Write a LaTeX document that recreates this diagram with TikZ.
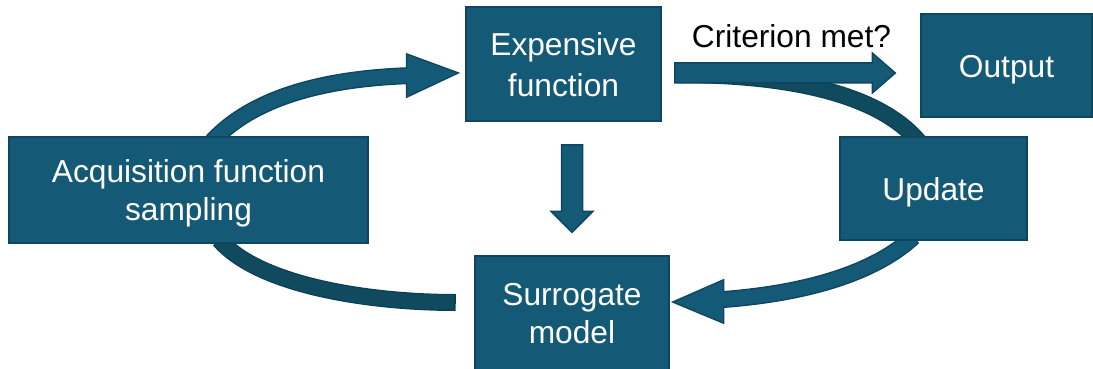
\documentclass[tikz,border=0pt]{standalone}
\usepackage{fontspec}
\setmainfont{Liberation Sans}
\usetikzlibrary{calc}
\pgfdeclarelayer{bg}
\pgfsetlayers{bg,main}
\definecolor{boxfill}{HTML}{145A76}
\definecolor{boxline}{HTML}{0E4660}
\definecolor{backfill}{HTML}{0F4A5F}
\definecolor{backline}{HTML}{0C3F52}
% struts giving every text block the same line box
\newcommand{\upperstrut}{\rule{0pt}{0.95em}}
\newcommand{\lowerstrut}{\rule[-0.2em]{0pt}{0.2em}}
\begin{document}
\begin{tikzpicture}[x=1pt,y=-1pt,
  stage/.style={fill=boxfill, draw=boxline, line width=1.5pt, text=white,
    inner sep=0pt, align=center, font=\fontsize{31.7}{38}\selectfont},
  bandedge/.style={draw=boxline, line width=17pt},
  bandfront/.style={draw=boxfill, line width=14pt},
  backedge/.style={draw=backline, line width=17pt},
  backfront/.style={draw=backfill, line width=14.5pt},
  headedge/.style={draw=boxline, line width=3pt, line join=miter},
  headfill/.style={fill=boxfill},
  blockarrow/.style={fill=boxfill, draw=boxline, line width=1.5pt, line join=miter},
  caption/.style={text=black, inner sep=0pt, font=\fontsize{31.7}{38}\selectfont},
]
\useasboundingbox (0,0) rectangle (1093,369);

% process stages
\node[stage, minimum width=195, minimum height=114, font=\fontsize{31.7}{40.5}\selectfont]
  (exp) at (563.5,64) {\upperstrut Expensive\\function\lowerstrut};
\node[stage, minimum width=171, minimum height=103] (out) at (1006.5,65.5)
  {\upperstrut Output\lowerstrut};
\node[stage, minimum width=359, minimum height=106] (acq) at (188.5,190)
  {\upperstrut Acquisition function\\sampling\lowerstrut};
\node[stage, minimum width=187, minimum height=103] (upd) at (933.5,188.5)
  {\upperstrut Update\lowerstrut};
\node[stage, minimum width=194, minimum height=114] (sur) at (572,313)
  {\upperstrut Surrogate\\model\lowerstrut};

\node[caption, anchor=base] (crit) at (791.5,48) {Criterion met?};

% end points of the connectors
\coordinate (a1s) at ($(acq.north west)+(204,5)$);
\coordinate (a1t) at ($(exp.west)+(-9,9)$);
\coordinate (a1b) at ($(a1t)+(-43,2.5)$);
\coordinate (a2s) at ($(exp.east)+(15,10.5)$);
\coordinate (a2e) at ($(upd.north)+(-15,5)$);
\coordinate (a3s) at ($(upd.south)+(-20,-4)$);
\coordinate (a3t) at ($(sur.east)+(5,-11)$);
\coordinate (a3b) at ($(a3t)+(42,-2)$);
\coordinate (a4s) at ($(sur.west)+(-20,-10.5)$);
\coordinate (a4e) at ($(acq.south west)+(211,-4)$);
\coordinate (cs) at ($(exp.east)+(13,9)$);
\coordinate (ct) at ($(out.west)+(-25,7.5)$);
\coordinate (ds) at ($(exp.south -| sur.north)+(0,23)$);
\coordinate (dt) at ($(sur.north)+(0,-23)$);

\begin{pgfonlayer}{bg}
  % return bands drawn behind
  \draw[backedge] (a2s) .. controls +(114,0) and +(-40,-47) .. (a2e);
  \draw[backfront] (a2s) .. controls +(114,0) and +(-40,-47) .. (a2e);
  \draw[backedge, shorten <=-1.5pt] (a4s) .. controls +(-85,0) and +(40,46) .. (a4e);
  \draw[backfront] (a4s) .. controls +(-85,0) and +(40,46) .. (a4e);

  % acquisition -> expensive function
  \draw[headedge] (a1t) -- ($(a1t)+(-49,-18)$) -- ($(a1t)+(-49,23)$) -- cycle;
  \draw[bandedge] (a1s) .. controls +(42,-45) and +(-86,2.5) .. (a1b);
  \draw[bandfront] (a1s) .. controls +(42,-45) and +(-86,2.5) .. (a1b);
  \fill[headfill] (a1t) -- ($(a1t)+(-49,-18)$) -- ($(a1t)+(-49,23)$) -- cycle;

  % update -> surrogate model
  \draw[headedge] (a3t) -- ($(a3t)+(48,-21)$) -- ($(a3t)+(48,20)$) -- cycle;
  \draw[bandedge] (a3s) .. controls +(-32,30) and +(104,-7) .. (a3b);
  \draw[bandfront] (a3s) .. controls +(-32,30) and +(104,-7) .. (a3b);
  \fill[headfill] (a3t) -- ($(a3t)+(48,-21)$) -- ($(a3t)+(48,20)$) -- cycle;

  % criterion met -> output
  \draw[blockarrow] ($(cs)+(0,-10)$) -- ($(ct)+(-23,-10)$) -- ($(ct)+(-23,-20)$)
    -- (ct) -- ($(ct)+(-23,20)$) -- ($(ct)+(-23,10)$) -- ($(cs)+(0,10)$) -- cycle;

  % expensive function -> surrogate model
  \draw[blockarrow] ($(ds)+(-10.5,0)$) -- ($(dt)+(-10.5,-21)$) -- ($(dt)+(-21,-21)$)
    -- (dt) -- ($(dt)+(21,-21)$) -- ($(dt)+(10.5,-21)$) -- ($(ds)+(10.5,0)$) -- cycle;
\end{pgfonlayer}
\end{tikzpicture}
\end{document}
